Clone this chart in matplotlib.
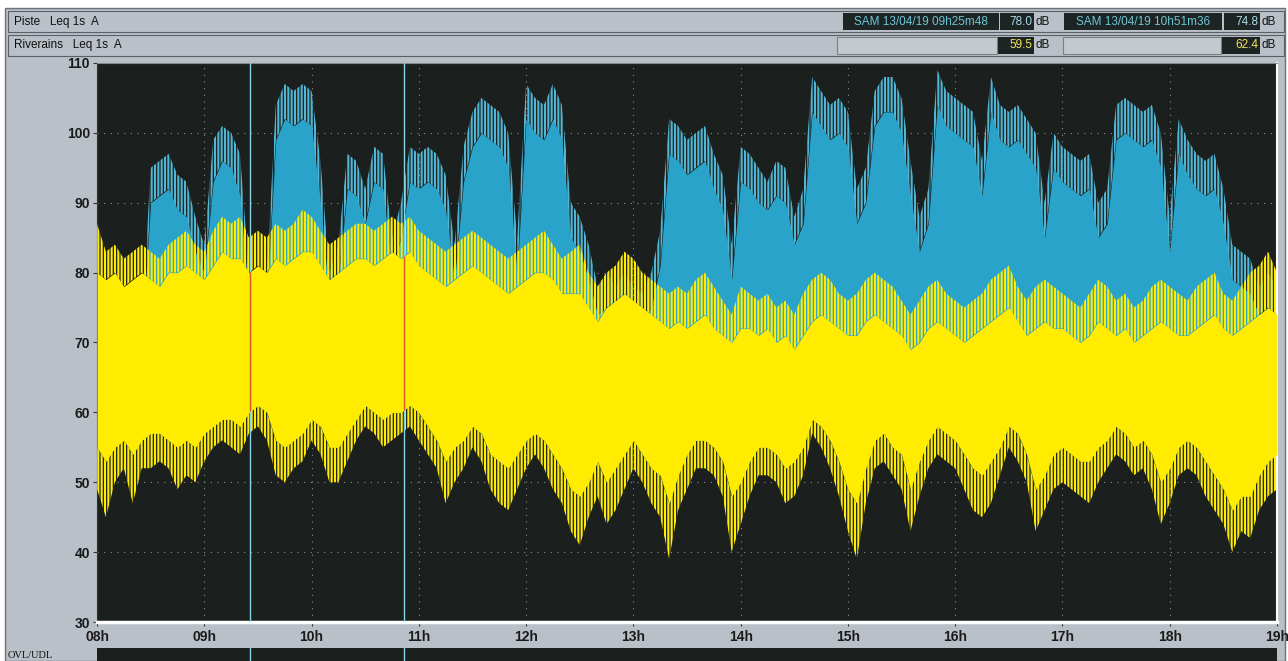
import matplotlib.pyplot as plt
import numpy as np
from matplotlib.patches import Rectangle

# 5-minute samples, 08h00 -> 19h00
minutes = np.arange(0, 665, 5)
hours = 8 + minutes / 60.0

# Piste (blue): spike peaks and solid body top per 5 min
piste_max = [70, 70, 70, 70, 70, 72, 95, 96, 97, 94, 93, 88,
             84, 99, 101, 100, 97, 80, 78, 80, 104, 107, 106, 107,
             106, 96, 80, 84, 97, 96, 92, 98, 97, 85, 90, 98,
             97, 98, 97, 94, 84, 98, 103, 105, 104, 103, 100, 85,
             107, 105, 104, 107, 104, 90, 88, 84, 78, 80, 78, 80,
             78, 77, 80, 86, 102, 101, 99, 100, 101, 97, 94, 84,
             98, 97, 95, 93, 96, 95, 88, 92, 108, 106, 104, 105,
             103, 92, 95, 106, 108, 108, 105, 96, 88, 92, 109, 106,
             105, 104, 103, 96, 108, 104, 103, 104, 102, 100, 90, 100,
             98, 97, 96, 97, 90, 92, 104, 105, 104, 103, 104, 100,
             88, 102, 99, 97, 96, 97, 92, 84, 83, 82, 78, 80,
             78]
piste_body = [70, 70, 70, 70, 70, 70, 90, 91, 92, 89, 88, 83,
              80, 93, 96, 95, 91, 76, 75, 76, 99, 102, 101, 102,
              101, 90, 76, 79, 92, 91, 87, 93, 92, 80, 85, 93,
              92, 93, 92, 89, 79, 93, 98, 100, 99, 98, 95, 80,
              102, 100, 99, 102, 99, 85, 83, 79, 74, 75, 74, 75,
              74, 73, 75, 81, 97, 96, 94, 95, 96, 92, 89, 79,
              93, 92, 90, 89, 91, 90, 84, 87, 103, 101, 99, 100,
              98, 87, 90, 101, 103, 103, 100, 91, 83, 87, 104, 101,
              100, 99, 98, 91, 103, 99, 98, 99, 97, 95, 85, 95,
              93, 92, 91, 92, 85, 87, 99, 100, 99, 98, 99, 95,
              83, 97, 94, 92, 91, 92, 87, 79, 78, 77, 74, 75,
              74]

# Riverains (yellow): spike max, solid body top, solid body bottom, spike min
riv_max = [87, 83, 84, 82, 83, 84, 83, 82, 84, 85, 86, 84,
           83, 86, 88, 87, 88, 85, 86, 85, 87, 86, 87, 89,
           88, 86, 84, 85, 86, 87, 87, 86, 87, 88, 87, 88,
           86, 85, 84, 83, 84, 85, 86, 85, 84, 83, 82, 83,
           84, 85, 86, 84, 82, 83, 84, 80, 78, 80, 81, 83,
           82, 80, 79, 78, 77, 78, 77, 79, 80, 78, 76, 74,
           78, 77, 76, 77, 75, 76, 74, 77, 79, 80, 79, 77,
           76, 77, 79, 80, 79, 78, 76, 74, 76, 78, 79, 77,
           76, 75, 76, 77, 79, 80, 81, 78, 76, 78, 79, 78,
           77, 76, 75, 77, 79, 78, 76, 77, 75, 76, 78, 79,
           78, 77, 76, 78, 79, 80, 77, 76, 78, 80, 81, 83,
           80]
riv_body_top = [80, 79, 80, 78, 79, 80, 79, 78, 80, 80, 81, 80,
                79, 81, 83, 82, 82, 80, 81, 80, 82, 81, 82, 83,
                83, 81, 79, 80, 81, 82, 82, 81, 82, 83, 82, 83,
                81, 80, 79, 78, 79, 80, 81, 80, 79, 78, 77, 78,
                79, 80, 80, 79, 77, 77, 77, 75, 73, 75, 76, 77,
                76, 75, 74, 73, 72, 73, 72, 73, 74, 72, 71, 70,
                72, 72, 71, 72, 70, 71, 69, 71, 73, 74, 73, 72,
                71, 71, 73, 74, 73, 72, 71, 69, 70, 72, 73, 72,
                71, 70, 71, 72, 73, 74, 75, 73, 71, 72, 73, 72,
                72, 71, 70, 71, 73, 72, 71, 72, 70, 71, 72, 73,
                72, 71, 71, 72, 73, 74, 72, 71, 72, 73, 74, 75,
                74]
riv_body_low = [55, 53, 55, 56, 54, 56, 57, 57, 56, 55, 56, 55,
                57, 58, 59, 59, 58, 60, 61, 60, 56, 55, 56, 57,
                59, 58, 55, 55, 57, 59, 61, 60, 59, 60, 60, 61,
                60, 58, 56, 53, 55, 56, 58, 57, 54, 53, 52, 54,
                56, 57, 56, 54, 52, 49, 48, 50, 53, 50, 52, 54,
                56, 54, 52, 51, 47, 51, 54, 56, 56, 55, 53, 48,
                50, 53, 55, 55, 54, 52, 53, 55, 59, 58, 56, 53,
                49, 47, 52, 56, 57, 55, 54, 49, 53, 56, 58, 57,
                56, 54, 52, 51, 53, 55, 58, 57, 54, 49, 51, 54,
                55, 54, 53, 53, 55, 56, 58, 57, 55, 56, 54, 50,
                52, 55, 56, 55, 53, 51, 49, 46, 48, 48, 51, 53,
                54]
riv_min = [49, 45, 50, 52, 47, 52, 52, 53, 52, 49, 51, 50,
           53, 55, 56, 55, 54, 57, 58, 56, 51, 50, 52, 53,
           56, 54, 50, 50, 53, 56, 58, 57, 55, 56, 57, 58,
           56, 54, 52, 47, 50, 52, 55, 53, 49, 47, 46, 49,
           52, 54, 52, 49, 47, 43, 41, 45, 48, 44, 46, 49,
           52, 50, 47, 45, 39, 46, 49, 52, 52, 51, 48, 40,
           44, 48, 51, 51, 50, 47, 48, 51, 57, 55, 52, 48,
           43, 39, 47, 52, 53, 51, 49, 43, 48, 52, 54, 53,
           52, 49, 46, 45, 47, 51, 55, 53, 50, 43, 46, 49,
           50, 49, 48, 47, 50, 52, 54, 53, 51, 52, 49, 44,
           47, 51, 52, 51, 48, 46, 44, 40, 43, 42, 46, 48,
           49]

hour_labels = ['08h', '09h', '10h', '11h', '12h', '13h', '14h', '15h',
               '16h', '17h', '18h', '19h']
cursor1 = 9 + 25 / 60 + 48 / 3600
cursor2 = 10 + 51 / 60 + 36 / 3600

plt.rcParams['font.family'] = ['Liberation Sans', 'DejaVu Sans']
plt.rcParams['hatch.linewidth'] = 1.5

W, H = 1288, 661
fig = plt.figure(figsize=(W / 100, H / 100), dpi=100, facecolor='white')

# background axes in pixel coordinates for the panel / header
bg = fig.add_axes([0, 0, 1, 1], zorder=-10)
bg.set_xlim(0, W)
bg.set_ylim(H, 0)
bg.axis('off')

def box(x, y, w, h, fc, ec='none', lw=0.8):
    bg.add_patch(Rectangle((x, y), w, h, fc=fc, ec=ec, lw=lw))

def txt(x, y, s, **kw):
    bg.text(x, y, s, va='center', **kw)

panel = '#b9c0c7'
dark = '#1d2424'

box(5, 8, 1280, 653, panel, ec='#6c7278', lw=1)
box(8, 11, 1276, 21, panel, ec='#5a6066', lw=0.8)
box(8, 35, 1276, 21, panel, ec='#5a6066', lw=0.8)
txt(14, 22, 'Piste   Leq 1s  A', fontsize=8.5, color='#111')
txt(14, 45, 'Riverains   Leq 1s  A', fontsize=8.5, color='#111')

# cursor read-outs
box(843, 13, 156, 17, dark)
txt(921, 22, 'SAM 13/04/19 09h25m48', fontsize=8.5, color='#6fc6d6', ha='center')
box(1000, 13, 34, 17, dark)
txt(1032, 22, '78.0', fontsize=8.5, color='#a8dce6', ha='right')
txt(1036, 22, 'dB', fontsize=8.5, color='#111')
box(1064, 13, 158, 17, dark)
txt(1143, 22, 'SAM 13/04/19 10h51m36', fontsize=8.5, color='#6fc6d6', ha='center')
box(1224, 13, 36, 17, dark)
txt(1258, 22, '74.8', fontsize=8.5, color='#a8dce6', ha='right')
txt(1262, 22, 'dB', fontsize=8.5, color='#111')

box(837, 37, 160, 17, '#c3c9cf', ec='#7a8086', lw=0.8)
box(998, 37, 36, 17, dark)
txt(1032, 45, '59.5', fontsize=8.5, color='#efe35a', ha='right')
txt(1036, 45, 'dB', fontsize=8.5, color='#111')
box(1063, 37, 158, 17, '#c3c9cf', ec='#7a8086', lw=0.8)
box(1222, 37, 38, 17, dark)
txt(1258, 45, '62.4', fontsize=8.5, color='#efe35a', ha='right')
txt(1262, 45, 'dB', fontsize=8.5, color='#111')

txt(8, 655, 'OVL/UDL', fontsize=7.5, color='#111', family='Liberation Serif')

# OVL/UDL strip
ovl = fig.add_axes([97 / W, 0, 1180 / W, 13 / H])
ovl.set_facecolor('#1b1f1d')
ovl.set_xlim(8, 19)
ovl.set_ylim(0, 1)
ovl.axvline(cursor1, color='#86d4e4', lw=1)
ovl.axvline(cursor2, color='#86d4e4', lw=1)
ovl.set_xticks([])
ovl.set_yticks([])
for s in ovl.spines.values():
    s.set_visible(False)

# main plot
ax = fig.add_axes([97 / W, (H - 622) / H, 1180 / W, 559 / H])
ax.set_facecolor('#1b1f1d')

blue = '#2aa3cb'
yel = '#ffec00'

# Piste: solid body + hatched spike fringe
ax.fill_between(hours, riv_body_low, piste_body, color=blue, lw=0, zorder=2)
ax.fill_between(hours, piste_body, piste_max, facecolor='none', edgecolor='#4fb6d6',
                hatch='|||||', lw=0, zorder=2)

# Riverains: solid body + hatched spike fringes
ax.fill_between(hours, riv_body_low, riv_body_top, color=yel, lw=0, zorder=3)
ax.fill_between(hours, riv_body_top, riv_max, facecolor='none', edgecolor=yel,
                hatch='|||||', lw=0, zorder=3)
ax.fill_between(hours, riv_min, riv_body_low, facecolor='none', edgecolor=yel,
                hatch='|||||', lw=0, zorder=3)

# cursors
for c in (cursor1, cursor2):
    ax.axvline(c, color='#86d4e4', lw=1, zorder=5)
    ax.vlines(c, np.interp(c, hours, riv_body_low), np.interp(c, hours, riv_body_top),
              color='#e0572a', lw=1, zorder=6)

ax.set_xlim(8, 19)
ax.set_ylim(30, 110)
ax.set_xticks(np.arange(8, 20), hour_labels)
ax.set_yticks(np.arange(30, 111, 10))
ax.tick_params(axis='x', length=3, color='#333', labelsize=10, labelcolor='#1a1a1a', pad=3)
ax.tick_params(axis='y', length=3, color='#333', labelsize=10, labelcolor='#1a1a1a', pad=2)
for lab in ax.get_xticklabels() + ax.get_yticklabels():
    lab.set_fontweight('bold')

for y in range(40, 110, 10):
    ax.axhline(y, color='#8a8f8c', lw=0.8, ls=(0, (1, 5)), zorder=1)
for x in range(9, 19):
    ax.axvline(x, color='#8a8f8c', lw=0.8, ls=(0, (1, 5)), zorder=1)

ax.spines['bottom'].set_color('white')
ax.spines['bottom'].set_linewidth(2.5)
ax.spines['left'].set_color('#333')
ax.spines['right'].set_color('white')
ax.spines['right'].set_linewidth(1.5)
ax.spines['top'].set_color('#888')

fig.savefig('out.png', dpi=100, facecolor=fig.get_facecolor())
